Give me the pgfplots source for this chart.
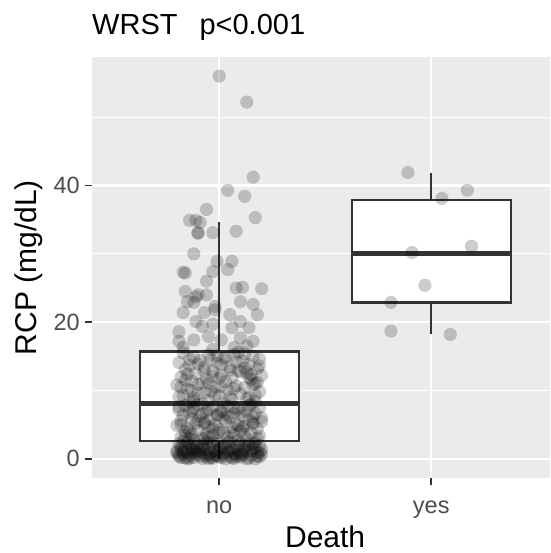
\documentclass[border=0pt]{standalone}
\usepackage{fontspec}
\setmainfont{Liberation Sans}
\usepackage{pgfplots}
\usepackage{pgfplotstable}
\pgfplotsset{compat=1.18}
\usepgfplotslibrary{statistics}
\definecolor{panel}{HTML}{EBEBEB}
\definecolor{g20}{HTML}{333333}
\definecolor{g30}{HTML}{4D4D4D}

\pgfplotstableread{
x y
1.00 56.0
1.13 52.2
1.16 41.2
1.04 39.3
1.12 38.4
0.94 36.5
1.17 35.3
0.86 34.9
0.89 34.9
0.91 34.6
0.90 33.1
0.90 33.0
0.97 33.1
1.08 33.3
0.88 30.0
0.99 28.9
1.06 28.9
0.83 27.3
0.84 27.2
0.97 27.4
1.04 27.7
0.94 26.0
0.84 24.5
1.08 25.0
1.11 25.1
1.20 24.9
0.90 24.0
0.94 24.0
0.85 23.0
0.88 22.9
1.10 23.0
1.16 22.6
0.98 22.3
0.89 23.7
0.83 21.4
0.93 21.4
0.98 21.8
1.05 21.1
1.10 20.1
1.18 21.1
0.89 20.1
0.81 18.6
0.92 19.4
0.97 19.7
1.06 19.2
1.14 19.2
0.81 17.2
0.88 17.4
0.95 17.9
1.01 17.4
1.10 17.7
1.16 17.2
0.83 16.3
0.97 16.0
1.07 16.3
1.13 16.5
0.83 15.5
1.07 15.3
0.95 15.2
1.16 15.0
0.88 14.9
1.02 14.7
1.19 14.6
0.91 14.4
1.11 14.3
0.81 14.1
0.99 14.0
1.14 13.8
0.86 13.7
1.05 13.5
0.93 13.4
1.18 13.2
0.84 13.1
1.09 12.9
0.97 12.8
1.13 12.6
0.89 12.5
1.01 12.3
1.20 12.2
0.82 12.0
1.06 11.9
0.94 11.7
1.15 11.6
0.87 11.4
1.03 11.3
0.92 11.1
1.17 11.0
0.80 10.8
1.08 10.7
0.98 10.5
1.12 10.4
0.85 10.2
1.04 10.1
0.96 9.9
1.19 9.8
0.90 9.6
1.10 9.5
0.83 9.3
1.00 9.2
1.14 9.0
0.88 8.9
1.06 8.7
0.95 8.6
1.17 8.4
0.86 8.3
1.02 8.2
1.12 15.4
0.90 13.9
1.08 14.2
0.97 12.1
0.84 11.5
1.16 10.9
1.01 10.6
0.93 9.7
1.10 12.7
0.81 9.1
1.05 13.0
0.99 15.1
1.18 11.2
0.87 10.0
1.13 8.8
0.85 12.4
0.90 10.9
0.96 14.5
1.00 11.8
1.05 9.0
1.09 15.6
1.14 11.9
1.19 13.6
0.82 10.5
0.88 8.5
0.93 12.9
0.98 9.4
1.03 14.9
1.07 10.3
1.12 13.3
1.17 9.3
0.86 14.6
0.95 11.0
1.01 13.7
1.15 12.3
0.92 8.0
1.15 7.9
0.84 7.8
1.04 7.7
0.97 7.6
1.19 7.5
0.88 7.4
1.09 7.3
0.81 7.2
1.01 7.1
1.13 7.0
0.94 6.9
0.86 6.8
1.07 6.7
1.17 6.6
0.99 6.5
0.83 6.4
1.11 6.3
0.91 6.2
1.05 6.1
1.20 6.0
0.87 5.9
0.96 5.8
1.14 5.7
0.82 5.6
1.03 5.5
0.93 5.4
1.16 5.3
0.89 5.2
1.08 5.1
0.98 5.0
0.80 4.9
1.12 4.8
0.95 4.7
1.06 4.6
0.85 4.5
1.18 4.4
1.00 4.3
0.90 4.2
1.10 4.1
0.84 4.0
1.02 3.9
1.15 3.8
0.94 3.7
0.87 3.6
1.07 3.5
0.97 3.4
1.19 3.3
0.82 3.2
1.04 3.1
0.92 3.0
1.13 2.9
0.88 2.8
1.09 2.7
0.99 2.65
0.81 7.65
1.16 6.15
0.93 5.15
1.06 3.85
0.86 2.95
1.11 4.55
1.01 6.85
0.90 7.95
1.20 5.45
0.95 3.25
0.84 3.4
0.90 5.6
0.95 7.2
1.00 3.9
1.04 6.4
1.09 4.9
1.14 7.8
1.18 3.0
0.82 5.0
0.87 7.0
0.93 2.9
0.97 4.4
1.02 5.9
1.07 7.5
1.12 3.6
1.16 5.1
0.86 4.1
0.99 6.3
1.10 6.8
0.92 6.6
0.83 2.55
1.05 2.5
0.94 2.45
1.17 2.4
0.88 2.35
1.10 2.3
0.99 2.25
0.81 2.2
1.14 2.15
0.92 2.1
1.03 2.05
0.86 2.0
1.19 1.95
0.97 1.9
1.08 1.85
0.84 1.8
1.12 1.75
0.95 1.7
1.01 1.65
0.89 1.6
1.16 1.55
0.82 1.5
1.06 1.45
0.93 1.4
1.20 1.35
0.87 1.3
1.09 1.25
0.98 1.2
0.80 1.15
1.13 1.1
0.91 1.05
1.04 1.0
0.85 0.95
1.18 0.9
0.96 0.85
1.07 0.8
0.83 0.75
1.11 0.7
0.90 0.65
1.02 0.6
1.15 0.55
0.86 0.5
0.99 0.45
1.05 0.4
0.81 0.35
1.19 0.3
0.94 0.3
1.10 0.25
0.88 0.2
1.01 0.2
0.84 0.15
1.14 0.1
0.97 0.1
1.07 0.05
0.92 0.05
1.17 0.0
0.85 0.0
1.03 0.0
0.95 0.6
1.12 1.3
0.89 0.9
1.00 1.5
0.82 1.95
1.16 2.2
0.93 0.75
1.08 0.35
0.99 1.05
1.20 0.65
0.87 1.7
1.04 2.35
0.80 0.9
0.86 0.1
0.91 0.4
0.96 0.2
1.02 0.9
1.06 0.15
1.11 0.5
1.15 1.2
1.18 0.4
0.83 1.1
0.88 1.4
0.93 1.9
0.98 0.5
1.03 1.6
1.09 2.0
1.13 0.0
1.17 1.7
0.81 0.6
0.85 2.3
0.90 1.2
0.95 0.0
1.00 0.3
1.05 1.2
1.10 0.8
1.14 1.9
1.19 1.0
0.82 0.2
0.87 0.8
0.92 1.6
0.97 2.4
1.08 0.6
}\nogroup

\pgfplotstableread{
x y
1.89 41.9
2.05 38.1
2.17 39.3
1.91 30.2
2.19 31.1
1.97 25.4
1.81 22.9
1.81 18.7
2.09 18.2
}\yesgroup

\begin{document}
\begin{tikzpicture}
\begin{axis}[
  scale only axis, width=458pt, height=421pt,
  xmin=0.4, xmax=2.56, ymin=-2.8, ymax=58.8,
  axis background/.style={fill=panel},
  axis line style={draw=none},
  xtick={1,2}, xticklabels={no,yes},
  ytick={0,20,40}, minor ytick={10,30,50},
  xtick pos=bottom, ytick pos=left,
  xmajorgrids, ymajorgrids, yminorgrids,
  major grid style={white, line width=2.2pt},
  minor grid style={white, line width=1.1pt},
  tick align=outside, major tick length=7pt, minor tick length=0pt,
  every tick/.style={g20, line width=1.6pt},
  tick label style={font=\fontsize{23.5}{28}\selectfont, text=g30},
  /pgf/number format/assume math mode=true,
  yticklabel style={inner sep=0pt, xshift=-5pt},
  xticklabel style={inner sep=0pt, anchor=base, yshift=-28pt},
  title={WRST\hspace{22pt}p<0.001},
  title style={at={(0,1)}, anchor=base west, yshift=16pt, inner sep=0pt, font=\fontsize{29}{35}\selectfont},
  xlabel={Death},
  xlabel style={at={(axis description cs:0.509,-0.164)}, anchor=base, inner sep=0pt, font=\fontsize{30}{36}\selectfont},
  ylabel={RCP (mg/dL)},
  ylabel style={at={(axis description cs:-0.1386,0.5)}, anchor=center, inner sep=0pt, font=\fontsize{30}{36}\selectfont},
  boxplot/draw direction=y,
  boxplot/whisker extend=0,
]
\addplot[boxplot prepared={median=8.1, upper quartile=15.7, lower quartile=2.6, upper whisker=34.7, lower whisker=0, draw position=1, box extend=0.75},
  draw=g20, fill=white, line width=2.3pt, solid, mark=none,
  boxplot/every median/.style={line width=4.7pt}] coordinates {};
\addplot[boxplot prepared={median=30.0, upper quartile=37.9, lower quartile=22.9, upper whisker=41.8, lower whisker=18.3, draw position=2, box extend=0.75},
  draw=g20, fill=white, line width=2.3pt, solid, mark=none,
  boxplot/every median/.style={line width=4.7pt}] coordinates {};
\addplot[only marks, draw=none, fill=black, fill opacity=0.2, mark=*, mark size=6.6pt, mark options={draw=none, draw opacity=0, fill=black, fill opacity=0.2}] table[x=x, y=y] {\nogroup};
\addplot[only marks, draw=none, fill=black, fill opacity=0.2, mark=*, mark size=6.6pt, mark options={draw=none, draw opacity=0, fill=black, fill opacity=0.2}] table[x=x, y=y] {\yesgroup};
\coordinate (P) at (rel axis cs:0,0);
\end{axis}
\pgfresetboundingbox
\path (P) ++(-92pt,-75pt) rectangle ++(550pt,553pt);
\end{tikzpicture}
\end{document}
